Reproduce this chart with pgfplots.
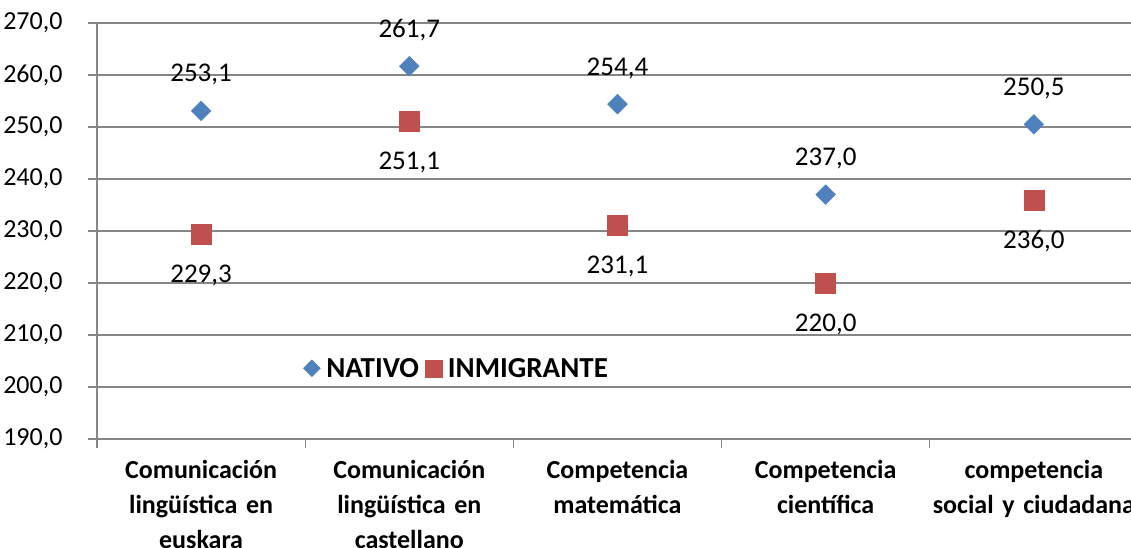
\documentclass[border=0pt]{standalone}
\usepackage{fontspec}
\setmainfont{Carlito}
\usepackage{pgfplots}
\pgfplotsset{compat=1.18}
\definecolor{natBlue}{HTML}{4F81BD}
\definecolor{inmRed}{HTML}{C0504D}
\definecolor{axGray}{HTML}{868686}

\begin{document}
\begin{tikzpicture}
  \useasboundingbox (-97pt,-109pt) rectangle (1034pt,439pt);
  \clip (-97pt,-109pt) rectangle (1034pt,439pt);
  \begin{axis}[
    at={(0pt,0pt)}, anchor=south west,
    scale only axis,
    width=1041pt, height=416pt,
    xmin=-0.5, xmax=4.5,
    ymin=190, ymax=270,
    ytick={190,200,...,270},
    xtick={-0.5,0.5,...,4.5},
    x tick label as interval,
    xticklabels={{Comunicación\\lingüística en\\euskara},
                 {Comunicación\\lingüística en\\castellano},
                 {Competencia\\matemática},
                 {Competencia\\científica},
                 {competencia\\social y ciudadana}},
    axis x line*=bottom,
    axis y line*=left,
    axis line style={draw=axGray, line width=1.3pt},
    tick align=outside,
    major tick length=9pt,
    tick style={draw=axGray, line width=1.3pt},
    ymajorgrids,
    major grid style={draw=axGray, line width=1.3pt},
    /pgf/number format/.cd, use comma, fixed, fixed zerofill, precision=1, assume math mode=true,
    /pgfplots/.cd,
    yticklabel style={font=\fontsize{26}{30}\selectfont, xshift=-22pt},
    xticklabel style={font=\bfseries\fontsize{26}{35}\selectfont, align=center, text width=240pt, anchor=north, yshift=-9pt},
    nodes near coords,
    every node near coord/.append style={font=\fontsize{27}{30}\selectfont, text=black, anchor=center},
    legend style={at={(axis cs:1.23,203.6)}, anchor=center, draw=none, fill=none,
      legend columns=2, font=\bfseries\fontsize{29}{32}\selectfont,
      nodes={inner xsep=3pt},
      column sep=3pt},
    legend image code/.code={\draw[#1, mark size=0.85*\pgfplotmarksize] plot coordinates {(0.1cm,0cm)};},
    clip=false,
  ]
    \addplot[only marks, mark=square*, mark size=7pt, mark options={rotate=45, fill=natBlue, draw=natBlue},
      every node near coord/.append style={yshift=36pt}]
      coordinates {(0,253.1) (1,261.7) (2,254.4) (3,237.0) (4,250.5)};
    \addlegendentry{NATIVO}
    \addplot[only marks, mark=square*, mark size=10pt, mark options={fill=inmRed, draw=inmRed},
      every node near coord/.append style={yshift=-41pt}]
      coordinates {(0,229.3) (1,251.1) (2,231.1) (3,220.0) (4,236.0)};
    \addlegendentry{INMIGRANTE}
  \end{axis}
\end{tikzpicture}
\end{document}
